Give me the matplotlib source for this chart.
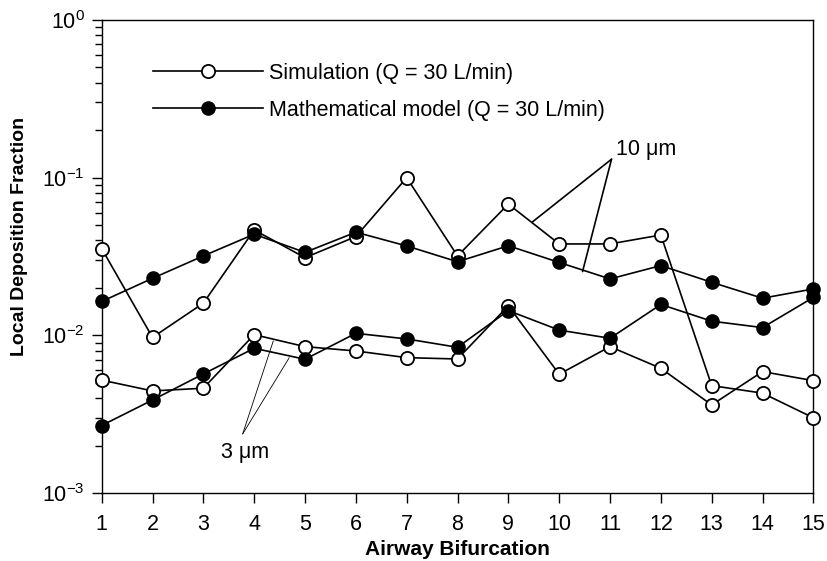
import numpy as np
import matplotlib.pyplot as plt

plt.rcParams['font.family'] = ['Liberation Sans', 'DejaVu Sans']
plt.rcParams['mathtext.default'] = 'regular'

# airway bifurcation number
bifurcation = list(range(1, 16))

# 10 um particles
sim_10um = [0.0355, 0.0097, 0.016, 0.0466, 0.0311, 0.0423, 0.100, 0.0319,
            0.068, 0.038, 0.038, 0.0433, 0.0048, 0.0043, 0.0030]
model_10um = [0.0164, 0.023, 0.0319, 0.0438, 0.0336, 0.0451, 0.0369, 0.0293,
              0.037, 0.029, 0.0228, 0.0277, 0.0217, 0.0172, 0.0197]

# 3 um particles
sim_3um = [0.0052, 0.00444, 0.00462, 0.0101, 0.00848, 0.00796, 0.00722, 0.00708,
           0.0154, 0.00567, 0.00848, 0.00618, 0.00362, 0.00589, 0.00516]
model_3um = [0.00268, 0.00389, 0.00569, 0.00828, 0.00705, 0.0103, 0.00949, 0.0084,
             0.01435, 0.0108, 0.00958, 0.0157, 0.0123, 0.0112, 0.0174]

fig = plt.figure(figsize=(8.28, 5.61), dpi=100)
ax = fig.add_axes([0.1228, 0.1212, 0.8595, 0.8431])

open_style = dict(color='black', lw=1.2, marker='o', ms=9.5, mfc='white',
                  mec='black', mew=1.3, clip_on=False, zorder=3)
fill_style = dict(color='black', lw=1.2, marker='o', ms=9.5, mfc='black',
                  mec='black', mew=1.0, clip_on=False, zorder=3)

ax.plot(bifurcation, sim_10um, label='Simulation (Q = 30 L/min)', **open_style)
ax.plot(bifurcation, model_10um, label='Mathematical model (Q = 30 L/min)', **fill_style)
ax.plot(bifurcation, sim_3um, **open_style)
ax.plot(bifurcation, model_3um, **fill_style)

ax.set_yscale('log')
ax.set_xlim(1, 15)
ax.set_ylim(1e-3, 1)
ax.set_xticks(bifurcation)
ax.set_yticks([1e-3, 1e-2, 1e-1, 1])
ax.set_yticklabels(['$10^{-3}$', '$10^{-2}$', '$10^{-1}$', '$10^{0}$'])
ax.tick_params(axis='both', which='major', direction='out', length=7, width=1.0,
               labelsize=15.5)
ax.tick_params(axis='x', which='major', pad=8)
ax.tick_params(axis='y', which='major', pad=5)
ax.tick_params(axis='y', which='minor', direction='out', length=5, width=1.0)
ax.tick_params(axis='x', which='minor', bottom=False)

for s in ax.spines.values():
    s.set_linewidth(1.0)

ax.set_xlabel('Airway Bifurcation', fontsize=15, fontweight='bold', labelpad=4)
ax.set_ylabel('Local Deposition Fraction', fontsize=14, fontweight='bold')
ax.yaxis.set_label_coords(-0.104, 0.543)

leg = ax.legend(loc='upper left', bbox_to_anchor=(0.045, 0.951), frameon=False,
                fontsize=15.5, handlelength=5.1, handletextpad=0.3,
                labelspacing=0.75)

# pointer labels
ax.text(11.12, 0.150, '10 μm', fontsize=15.5, ha='left', va='center')
ax.annotate('', xy=(9.48, 0.0526), xytext=(11.03, 0.131),
            arrowprops=dict(arrowstyle='-', color='black', lw=1.2, shrinkA=0, shrinkB=0))
ax.annotate('', xy=(10.46, 0.0254), xytext=(11.03, 0.131),
            arrowprops=dict(arrowstyle='-', color='black', lw=1.2, shrinkA=0, shrinkB=0))
ax.text(3.83, 0.0018, '3 μm', fontsize=15.5, ha='center', va='center')
ax.annotate('', xy=(4.376, 0.00922), xytext=(3.774, 0.00237),
            arrowprops=dict(arrowstyle='-', color='black', lw=0.6, shrinkA=0, shrinkB=0))
ax.annotate('', xy=(4.69, 0.00722), xytext=(3.774, 0.00237),
            arrowprops=dict(arrowstyle='-', color='black', lw=0.6, shrinkA=0, shrinkB=0))

plt.savefig('out.png', dpi=100)
